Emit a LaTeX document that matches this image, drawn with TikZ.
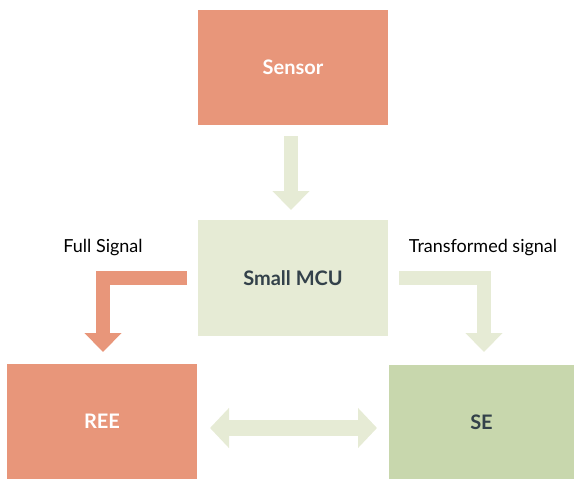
\documentclass[tikz,border=0pt]{standalone}
\usepackage{fontspec}
\setmainfont{Lato}
\usetikzlibrary{arrows.meta}
\definecolor{salmon}{HTML}{E8967A}
\definecolor{palegreen}{HTML}{E6EBD5}
\definecolor{sagegreen}{HTML}{C8D7AD}
\definecolor{slate}{HTML}{33414A}
\tikzset{
  block/.style={rectangle, inner sep=0pt, font=\fontsize{20}{23}\selectfont\bfseries},
  flow/.style={line width=14pt, line join=miter, line cap=butt,
    -{Triangle[width=36pt,length=19pt]}},
  both/.style={line width=16pt, line cap=butt,
    {Triangle[width=39pt,length=19pt]}-{Triangle[width=39pt,length=19pt]}},
  caption/.style={font=\fontsize{18}{21}\selectfont, text=black}
}
\begin{document}
\begin{tikzpicture}[x=1pt,y=-1pt]
\useasboundingbox (0,0) rectangle (574,479);

% boxes
\node[block, fill=salmon, text=white, minimum width=190pt, minimum height=115pt] (sensor) at (293,67.5) {Sensor};
\node[block, fill=palegreen, text=slate, minimum width=190pt, minimum height=116pt] (mcu) at (293,278) {Small MCU};
\node[block, fill=salmon, text=white, minimum width=190pt, minimum height=115pt] (ree) at (102,421.5) {REE};
\node[block, fill=sagegreen, text=slate, minimum width=185pt, minimum height=114pt] (se) at (481.5,422) {SE};

% arrow end points
\coordinate (sensorOut) at (291,136);
\coordinate (mcuIn) at (291,210);
\coordinate (leftStart) at (187,278);
\coordinate (leftBend) at (103,278);
\coordinate (reeIn) at (103,352);
\coordinate (rightStart) at (399,278);
\coordinate (rightBend) at (484,278);
\coordinate (seIn) at (484,352);
\coordinate (reeSide) at (210,428);
\coordinate (seSide) at (377,428);

% connectors
\draw[flow, palegreen] (sensorOut) -- (mcuIn);
\draw[flow, salmon] (leftStart) -- (leftBend) -- (reeIn);
\draw[flow, palegreen] (rightStart) -- (rightBend) -- (seIn);
\draw[both, palegreen] (reeSide) -- (seSide);

% labels
\node[caption] (fullLbl) at (103,248) {Full Signal};
\node[caption] (transLbl) at (483,248) {Transformed signal};
\end{tikzpicture}
\end{document}
